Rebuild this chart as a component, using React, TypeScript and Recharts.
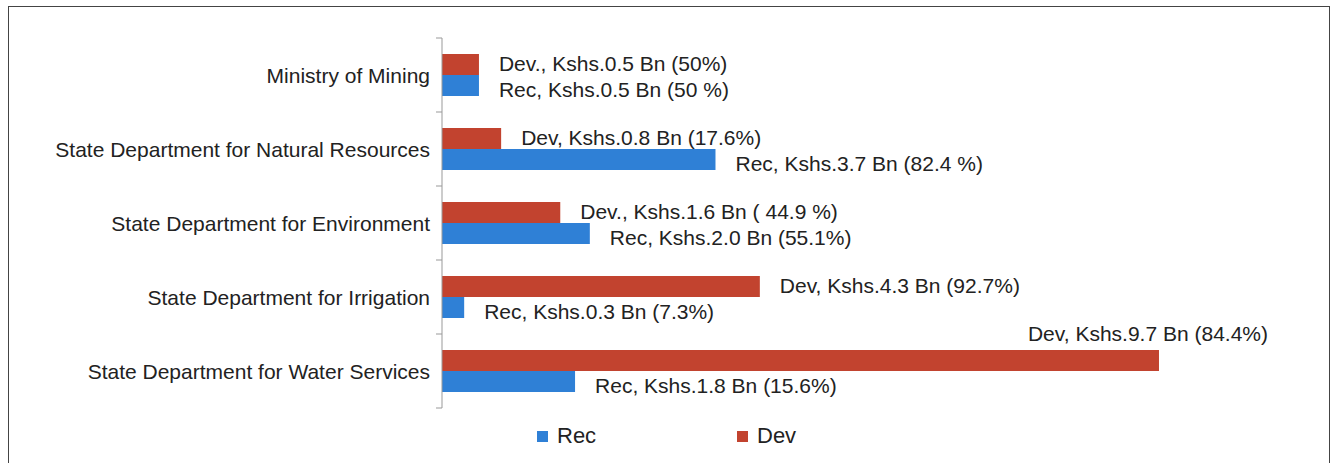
import { BarChart, Bar, XAxis, YAxis, Legend, LabelList } from "recharts";

const categories = [
  "Ministry of Mining",
  "State Department for Natural Resources",
  "State Department for Environment",
  "State Department for Irrigation",
  "State Department for Water Services",
];
const recValues = [0.5, 3.7, 2.0, 0.3, 1.8];
const devValues = [0.5, 0.8, 1.6, 4.3, 9.7];
const recLabels = [
  "Rec, Kshs.0.5 Bn (50 %)",
  "Rec, Kshs.3.7 Bn (82.4 %)",
  "Rec, Kshs.2.0 Bn (55.1%)",
  "Rec, Kshs.0.3 Bn (7.3%)",
  "Rec, Kshs.1.8 Bn (15.6%)",
];
const devLabels = [
  "Dev., Kshs.0.5 Bn (50%)",
  "Dev, Kshs.0.8 Bn (17.6%)",
  "Dev., Kshs.1.6 Bn ( 44.9 %)",
  "Dev, Kshs.4.3 Bn (92.7%)",
  "Dev, Kshs.9.7 Bn (84.4%)",
];

const REC_COLOR = "#2f80d6";
const DEV_COLOR = "#c2432f";
const FONT = "'Liberation Sans', Arial, sans-serif";
const FS = 21;

const CHART_W = 1320;
const CHART_H = 455;
const MARGIN = { top: 31, right: 0, bottom: 54, left: 0 };
const PLOT_H = CHART_H - MARGIN.top - MARGIN.bottom;
const BAND = PLOT_H / categories.length;

const data = categories.map((name, i) => ({
  name,
  rec: recValues[i],
  dev: devValues[i],
  recLabel: recLabels[i],
  devLabel: devLabels[i],
}));

// category tick: text plus the boundary marks between bands
function CategoryTick(props: any) {
  const { x, y, payload, index } = props;
  const axisX = x + 8;
  return (
    <g>
      <text
        x={x - 4}
        y={y}
        textAnchor="end"
        dominantBaseline="central"
        fontSize={FS}
        fontFamily={FONT}
        fill="#222"
      >
        {payload.value}
      </text>
      <line x1={axisX - 6} x2={axisX} y1={y - BAND / 2} y2={y - BAND / 2} stroke="#999" />
      {index === categories.length - 1 && (
        <line x1={axisX - 6} x2={axisX} y1={y + BAND / 2} y2={y + BAND / 2} stroke="#999" />
      )}
    </g>
  );
}

function makeLabel(dy: number) {
  return (props: any) => {
    const { x, y, width, height, value } = props;
    const tx = x + width + 20;
    const est = String(value).length * 11.5;
    if (tx + est > CHART_W) {
      // no room on the right: put it above the bar, right aligned
      return (
        <text
          x={CHART_W - 61}
          y={y - 17}
          textAnchor="end"
          dominantBaseline="central"
          fontSize={FS}
          fontFamily={FONT}
          fill="#222"
        >
          {value}
        </text>
      );
    }
    return (
      <text
        x={tx}
        y={y + height / 2 + dy}
        dominantBaseline="central"
        fontSize={FS}
        fontFamily={FONT}
        fill="#222"
      >
        {value}
      </text>
    );
  };
}

function LegendContent() {
  const items = [
    { name: "Rec", color: REC_COLOR },
    { name: "Dev", color: DEV_COLOR },
  ];
  return (
    <div style={{ display: "flex", marginLeft: 528, fontFamily: FONT }}>
      {items.map((it) => (
        <div key={it.name} style={{ width: 200, display: "flex", alignItems: "center" }}>
          <span style={{ width: 11, height: 11, background: it.color, display: "inline-block", marginRight: 9 }} />
          <span style={{ fontSize: 22, color: "#222", lineHeight: "24px" }}>{it.name}</span>
        </div>
      ))}
    </div>
  );
}

export default function App() {
  return (
    <div
      style={{
        position: "absolute",
        top: 6,
        left: 8,
        width: CHART_W,
        height: 470,
        border: "1px solid #444",
        background: "#fff",
      }}
    >
      <BarChart
        width={CHART_W}
        height={CHART_H}
        data={data}
        layout="vertical"
        margin={MARGIN}
        barGap={0}
        barSize={21}
      >
        <XAxis type="number" domain={[0, 12]} hide />
        <YAxis
          type="category"
          dataKey="name"
          width={433}
          axisLine={{ stroke: "#999" }}
          tickLine={false}
          tickSize={6}
          tickMargin={2}
          tick={<CategoryTick />}
          interval={0}
        />
        <Legend
          verticalAlign="middle"
          align="center"
          layout="horizontal"
          wrapperStyle={{ top: 417, left: 0, width: CHART_W }}
          content={<LegendContent />}
        />
        <Bar dataKey="dev" name="Dev" fill={DEV_COLOR} isAnimationActive={false}>
          <LabelList dataKey="devLabel" content={makeLabel(-1)} />
        </Bar>
        <Bar dataKey="rec" name="Rec" fill={REC_COLOR} isAnimationActive={false}>
          <LabelList dataKey="recLabel" content={makeLabel(4)} />
        </Bar>
      </BarChart>
    </div>
  );
}
